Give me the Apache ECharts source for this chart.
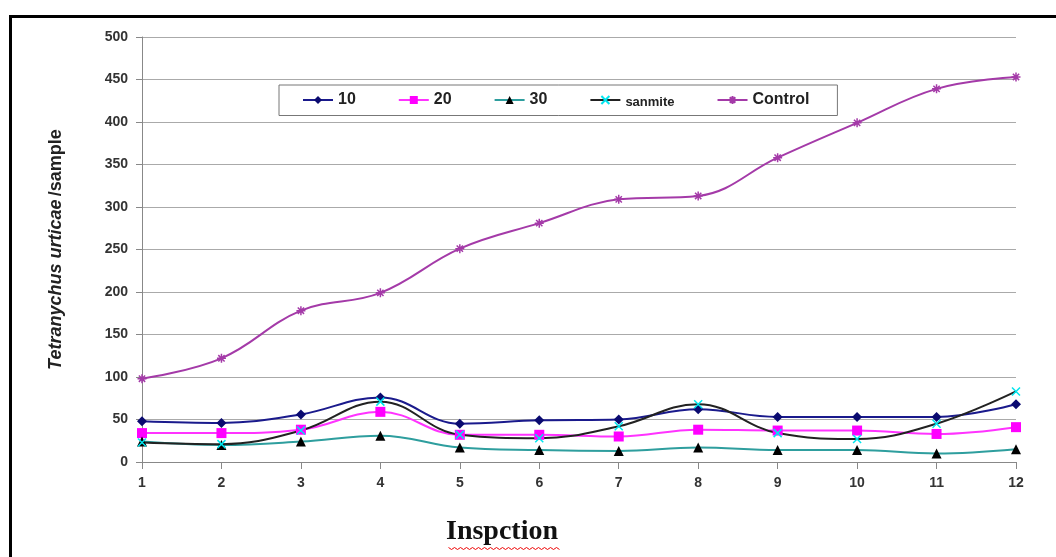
<!DOCTYPE html>
<html>
<head>
<meta charset="utf-8">
<script src="https://cdn.jsdelivr.net/npm/echarts@6/dist/echarts.min.js"></script>
<style>
html,body{margin:0;padding:0;background:#fff;}
#c{width:1056px;height:557px;}
</style>
</head>
<body>
<div id="c"></div>
<script>
var categories = ['1','2','3','4','5','6','7','8','9','10','11','12'];
var s10 = [48, 46, 56, 76, 45, 49, 50, 62, 53, 53, 53, 68];
var s20 = [34, 34, 38, 59, 32, 32, 30, 38, 37, 37, 33, 41];
var s30 = [24, 20, 24, 31, 17, 14, 13, 17, 14, 14, 10, 15];
var sSanmite = [23, 21, 37, 71, 32, 28, 42, 68, 34, 27, 45, 83];
var sControl = [98, 122, 178, 199, 251, 281, 309, 313, 358, 399, 439, 453];
var yTicks = [0, 50, 100, 150, 200, 250, 300, 350, 400, 450, 500];

var chart = echarts.init(document.getElementById('c'));
var font = '"Liberation Sans", Arial, sans-serif';
var xPath = 'path://M0,0 L10,10 M10,0 L0,10';
var starPath = 'path://M0,5 L10,5 M5,0 L5,10 M1.5,1.5 L8.5,8.5 M8.5,1.5 L1.5,8.5';

function mk(name, data, lineColor, symbol, symColor, size, stroke) {
  return {
    name: name, type: 'line', data: data, smooth: 0.4,
    symbol: symbol, symbolSize: size,
    lineStyle: {color: lineColor, width: 2},
    itemStyle: stroke ? {color: 'rgba(0,0,0,0)', borderColor: symColor, borderWidth: 1.5} : {color: symColor, borderWidth: 0},
    emphasis: {disabled: true},
    z: 2
  };
}

var squig = [];
for (var i = 0; i <= 37; i++) { squig.push([i * 3, (i % 2) * 2]); }

chart.setOption({
  animation: false,
  grid: {left: 142, right: 40, top: 37, bottom: 95, containLabel: false},
  legend: {
    left: 279, top: 85,
    backgroundColor: '#fff', borderColor: '#777', borderWidth: 1,
    padding: [7, 28, 7, 23],
    itemWidth: 30, itemHeight: 10, itemGap: 42,
    textStyle: {fontFamily: font, fontSize: 16, color: '#222', fontWeight: 'bold',
      rich: {s: {fontFamily: font, fontSize: 13, color: '#222', fontWeight: 'bold', padding: [4,0,0,0]}}},
    formatter: function (n) { return n === 'sanmite' ? '{s|sanmite}' : n; },
    data: ['10','20','30','sanmite','Control']
  },
  xAxis: {
    type: 'category', data: categories, boundaryGap: false,
    axisLine: {lineStyle: {color: '#888', width: 1}},
    axisTick: {show: true, length: 7, lineStyle: {color: '#888'}},
    axisLabel: {fontFamily: font, fontSize: 14, fontWeight: 'bold', color: '#333', margin: 14}
  },
  yAxis: {
    type: 'value', min: 0, max: 500, interval: 50,
    name: '{i|Tetranychus urticae} {n|/sample}',
    nameLocation: 'middle', nameGap: 77, nameRotate: 90,
    nameTextStyle: {rich: {
      i: {fontFamily: font, fontSize: 18, fontStyle: 'italic', fontWeight: 'bold', color: '#222'},
      n: {fontFamily: font, fontSize: 18, fontWeight: 'bold', color: '#222'}
    }},
    axisLine: {show: true, lineStyle: {color: '#888', width: 1}},
    axisTick: {show: true, length: 6, lineStyle: {color: '#888'}},
    axisLabel: {fontFamily: font, fontSize: 14, fontWeight: 'bold', color: '#333', margin: 14,
      formatter: function (v) { return yTicks.indexOf(v) >= 0 ? String(v) : ''; }},
    splitLine: {show: true, lineStyle: {color: '#aaa', width: 1}}
  },
  series: [
    mk('10', s10, '#1a1a8c', 'diamond', '#0a0a70', 10, false),
    mk('20', s20, '#ff33ff', 'rect', '#ff00ff', 10, false),
    mk('30', s30, '#2e9e9e', 'triangle', '#000', 10, false),
    mk('sanmite', sSanmite, '#222', xPath, '#00e5ee', 8, true),
    mk('Control', sControl, '#a43aa8', starPath, '#a43aa8', 9, true)
  ],
  graphic: [
    {type: 'rect', left: 8, top: 14, shape: {width: 1100, height: 600},
     style: {fill: 'none', stroke: '#000', lineWidth: 3}, silent: true},
    {type: 'text', left: 446, top: 518,
     style: {text: 'Inspction', font: 'bold 28px "Liberation Serif", "Times New Roman", serif', fill: '#111'}},
    {type: 'polyline', left: 446, top: 545,
     shape: {points: squig},
     style: {stroke: '#e00', lineWidth: 1, fill: 'none'}, silent: true}
  ]
});
</script>
</body>
</html>
